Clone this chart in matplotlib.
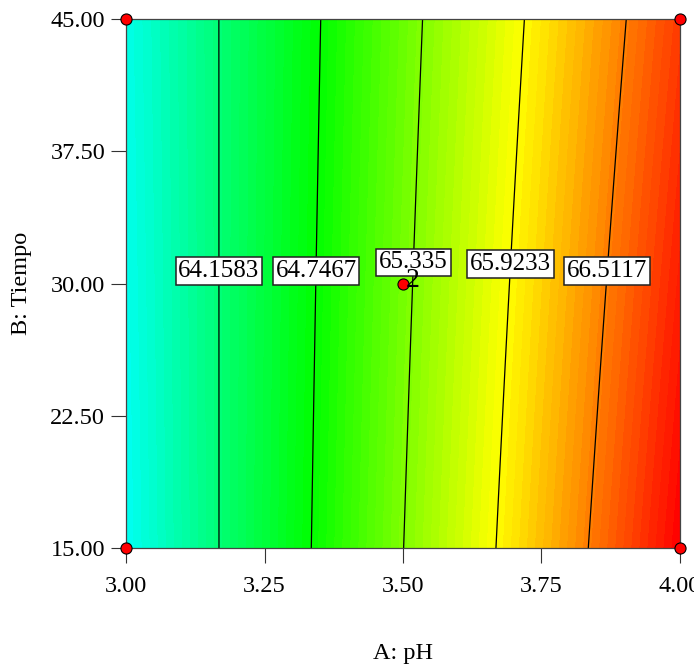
import numpy as np
import matplotlib
matplotlib.use("Agg")
import matplotlib.pyplot as plt
from matplotlib.colors import LinearSegmentedColormap

plt.rcParams['font.family'] = ['Liberation Serif', 'DejaVu Serif']

# factor ranges (corners of the design space)
ph = [3.0, 4.0]
tiempo = [15.0, 45.0]
# predicted response at the corners, rows = tiempo, cols = ph
resp = [[63.566, 67.096],
        [63.622, 66.822]]

levels = [64.1583, 64.7467, 65.335, 65.9233, 66.5117]

# design points
pts_ph = [3.0, 3.0, 4.0, 4.0, 3.5]
pts_t = [15.0, 45.0, 15.0, 45.0, 30.0]
center_reps = "2"

xticks = [3.00, 3.25, 3.50, 3.75, 4.00]
xticklabels = ["3.00", "3.25", "3.50", "3.75", "4.00"]
yticks = [15.0, 22.5, 30.0, 37.5, 45.0]
yticklabels = ["15.00", "22.50", "30.00", "37.50", "45.00"]

# response surface (interaction model between the corners)
A, B = np.meshgrid(np.linspace(ph[0], ph[1], 300), np.linspace(tiempo[0], tiempo[1], 300))
u = (A - ph[0]) / (ph[1] - ph[0])
v = (B - tiempo[0]) / (tiempo[1] - tiempo[0])
r = np.array(resp)
Z = r[0, 0]*(1-u)*(1-v) + r[0, 1]*u*(1-v) + r[1, 0]*(1-u)*v + r[1, 1]*u*v

zmin, zmax = r.min(), r.max()
cmap = LinearSegmentedColormap.from_list("de", [(0.0, (0.0, 1.0, 0.95)),
                                                (0.17, (0.0, 1.0, 0.45)),
                                                (1/3, (0.0, 1.0, 0.0)),
                                                (2/3, (1.0, 1.0, 0.0)),
                                                (1.0, (1.0, 0.0, 0.0))])

fig = plt.figure(figsize=(6.94, 6.65), dpi=100)
ax = fig.add_axes([0.1816, 0.1759, 0.7982, 0.7955])

ax.contourf(A, B, Z, levels=np.linspace(zmin, zmax, 70), cmap=cmap, vmin=zmin, vmax=zmax)
cs = ax.contour(A, B, Z, levels=levels, colors='black', linewidths=0.9)

# label positions
lab_pos = [(3.166, 30.7), (3.342, 30.7), (3.518, 31.2), (3.696, 31.1), (3.871, 30.7)]
labs = ax.clabel(cs, fmt=lambda v: ("%.4f" % v).rstrip('0'), manual=lab_pos, inline=False, fontsize=18)
for t in labs:
    t.set_bbox(dict(facecolor='white', edgecolor='#222222', linewidth=1.1, pad=2.0))
    t.set_zorder(5)
    t.set_rotation(0)

# design points
ax.plot(pts_ph, pts_t, 'o', color='red', markeredgecolor='black', markeredgewidth=0.8,
        markersize=8, clip_on=False, zorder=10)
ax.annotate(center_reps, (pts_ph[4], pts_t[4]), xytext=(2, 2), textcoords='offset points',
            ha='left', va='center', fontsize=20, zorder=11)

ax.set_xlim(ph)
ax.set_ylim(tiempo)
ax.set_xticks(xticks)
ax.set_xticklabels(xticklabels)
ax.set_yticks(yticks)
ax.set_yticklabels(yticklabels)
ax.tick_params(direction='out', length=11, width=0.8, labelsize=17.5, color='#333333')
ax.tick_params(axis='x', pad=9)
ax.tick_params(axis='y', pad=4)
for s in ax.spines.values():
    s.set_color('#444444')
    s.set_linewidth(0.9)

ax.set_xlabel("A: pH", fontsize=17.5, labelpad=33)
ax.set_ylabel("B: Tiempo", fontsize=17.5, labelpad=13)

fig.savefig("out.png", dpi=100)
